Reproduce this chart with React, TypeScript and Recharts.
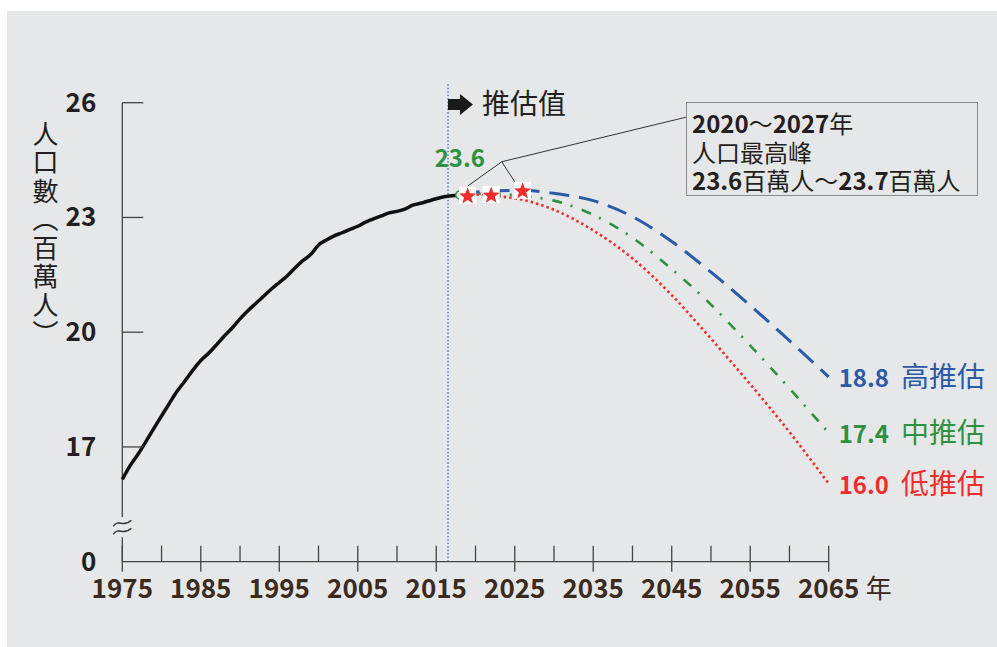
import {
  ComposedChart,
  Line,
  Scatter,
  XAxis,
  YAxis,
  ReferenceLine,
  ReferenceDot,
} from 'recharts'

const FONT = "'Noto Sans CJK TC', 'Noto Sans', sans-serif"
const BG = '#e6e7e8'
const BLUE = '#2a5aa8'
const GREEN = '#2e9142'
const RED = '#ef2d2d'

// 歷史人口 (百萬人)
const histYears = Array.from({ length: 44 }, (_, i) => 1975 + i)
const histValues = [
  16.15, 16.51, 16.81, 17.14, 17.48, 17.81, 18.14, 18.46, 18.73, 19.01,
  19.26, 19.45, 19.67, 19.9, 20.11, 20.35, 20.56, 20.75, 20.94, 21.13,
  21.3, 21.47, 21.68, 21.87, 22.03, 22.28, 22.41, 22.52, 22.6, 22.69,
  22.77, 22.88, 22.96, 23.04, 23.12, 23.16, 23.22, 23.32, 23.37, 23.43,
  23.49, 23.54, 23.57, 23.59,
]

// 推估值
const projYears = [2018, 2020, 2022, 2026, 2030, 2035, 2040, 2045, 2050, 2055, 2060, 2065]
const highValues = [23.59, 23.66, 23.69, 23.71, 23.63, 23.44, 23.02, 22.37, 21.57, 20.7, 19.78, 18.83]
const midValues = [23.59, 23.62, 23.62, 23.56, 23.44, 23.07, 22.47, 21.65, 20.72, 19.65, 18.53, 17.37]
const lowValues = [23.59, 23.6, 23.57, 23.46, 23.2, 22.66, 21.93, 20.97, 19.83, 18.64, 17.39, 16.04]
const seriesNames = ['高推估', '中推估', '低推估']

// 人口最高峰
const peakYears = [2019, 2022, 2026]
const peakValues = [23.58, 23.6, 23.71]

const xTicks = [
  1975, 1980, 1985, 1990, 1995, 2000, 2005, 2010, 2015, 2020,
  2025, 2030, 2035, 2040, 2045, 2050, 2055, 2060, 2065,
]
const yTicks = [14, 17, 20, 23, 26]
const yTickLabels = ['0', '17', '20', '23', '26']

const projStart = 2016.5
const calloutJoint = { x: 2023.34, y: 24.456 }
const calloutEnds = [
  { x: 2019.0, y: 23.82 },
  { x: 2025.45, y: 23.79 },
  { x: 2046.8, y: 25.62 },
]

const years = Array.from(new Set([...histYears, ...projYears])).sort((a, b) => a - b)
const pick = (ys: number[], vs: number[], y: number) => {
  const i = ys.indexOf(y)
  return i < 0 ? null : vs[i]
}
const data = years.map((year) => ({
  year,
  hist: pick(histYears, histValues, year),
  high: pick(projYears, highValues, year),
  mid: pick(projYears, midValues, year),
  low: pick(projYears, lowValues, year),
}))
const peakData = peakYears.map((year, i) => ({ year, peak: peakValues[i] }))
const lastIndex = data.length - 1

function XTick(props: any) {
  const { x, y, payload } = props
  const v = payload.value
  const major = (v - 1975) % 10 === 0
  return (
    <g>
      <line x1={x} x2={x} y1={y - 16} y2={major ? y + 10 : y} stroke="#444" strokeWidth={1.3} />
      {major && (
        <text x={x} y={y + 36} textAnchor="middle" fontSize={26} fontWeight="bold" fill="#3b2a1e" fontFamily={FONT}>
          {v}
        </text>
      )}
      {v === 2065 && (
        <text x={x + 37} y={y + 36} fontSize={26} fill="#3b2a1e" fontFamily={FONT}>
          年
        </text>
      )}
    </g>
  )
}

function YTick(props: any) {
  const { x, y, payload } = props
  const i = yTicks.indexOf(payload.value)
  return (
    <g>
      {payload.value !== 14 && <line x1={x} x2={x + 21} y1={y} y2={y} stroke="#444" strokeWidth={1.3} />}
      <text x={x - 26} y={y + 9} textAnchor="end" fontSize={26} fontWeight="bold" fill="#231f20" fontFamily={FONT}>
        {yTickLabels[i]}
      </text>
    </g>
  )
}

function Star(props: any) {
  const { cx, cy } = props
  const pts: string[] = []
  for (let k = 0; k < 10; k++) {
    const r = k % 2 === 0 ? 9 : 3.8
    const a = -Math.PI / 2 + (k * Math.PI) / 5
    pts.push(`${cx + r * Math.cos(a)},${cy + 1 + r * Math.sin(a)}`)
  }
  return (
    <g>
      <rect x={cx - 8.5} y={cy - 8.5} width={17} height={17} fill="#fff" />
      <polygon points={pts.join(' ')} fill={RED} />
    </g>
  )
}

function AxisBreak(props: any) {
  const { cx, cy } = props
  return (
    <g>
      <rect x={cx - 10} y={cy - 10} width={20} height={20} fill={BG} />
      {[-4, 4].map((d) => (
        <path
          key={d}
          d={`M${cx - 9},${cy + d + 3} C${cx - 4},${cy + d - 5} ${cx + 1},${cy + d + 5} ${cx + 9},${cy + d - 3}`}
          fill="none"
          stroke="#333"
          strokeWidth={1.4}
        />
      ))}
    </g>
  )
}

const endLabel = (name: string, color: string) => (p: any) => {
  if (p.index !== lastIndex) return <g key={p.index} />
  return (
    <text key={p.index} x={p.x + 10} y={p.y + 10} fill={color} fontFamily={FONT}>
      <tspan fontWeight="bold" fontSize={24}>{Number(p.value).toFixed(1)}</tspan>
      <tspan dx={12} fontSize={28}>{name}</tspan>
    </text>
  )
}

export default function App() {
  return (
    <div style={{ position: 'absolute', left: 0, top: 0, width: 997, height: 647, background: '#fff', fontFamily: FONT }}>
      <div style={{ position: 'absolute', left: 7, top: 11, right: 0, bottom: 0, background: BG }} />

      <ComposedChart
        width={997}
        height={647}
        data={data}
        margin={{ top: 102.7, right: 168.3, bottom: 25.3, left: 42.3 }}
        style={{ position: 'absolute', left: 0, top: 0 }}
      >
        <XAxis
          dataKey="year"
          type="number"
          domain={[1975, 2065]}
          ticks={xTicks}
          interval={0}
          tick={(p: any) => <XTick {...p} />}
          tickLine={false}
          tickSize={0}
          tickMargin={0}
          axisLine={{ stroke: '#444', strokeWidth: 1.3 }}
          height={60}
        />
        <YAxis
          type="number"
          domain={[14, 26]}
          ticks={yTicks}
          interval={0}
          tick={(p: any) => <YTick {...p} />}
          tickLine={false}
          tickSize={0}
          tickMargin={0}
          axisLine={false}
          width={80}
        />
        <ReferenceLine segment={[{ x: 1975, y: 15.16 }, { x: 1975, y: 26 }]} stroke="#444" strokeWidth={1.3} />
        <ReferenceLine segment={[{ x: 1975, y: 14 }, { x: 1975, y: 14.67 }]} stroke="#444" strokeWidth={1.3} />
        <ReferenceDot x={1975} y={14.9} r={0} shape={(p: any) => <AxisBreak {...p} />} />
        <ReferenceLine
          segment={[{ x: projStart, y: 14 }, { x: projStart, y: 26.5 }]}
          ifOverflow="visible"
          stroke="#4a7fc8"
          strokeWidth={1.5}
          strokeDasharray="1.5 2"
        />
        {calloutEnds.map((e, i) => (
          <ReferenceLine key={i} segment={[calloutJoint, e]} ifOverflow="visible" stroke="#333" strokeWidth={1} />
        ))}

        <Line type="monotone" dataKey="hist" stroke="#111" strokeWidth={3.5} dot={false} isAnimationActive={false} />
        <Line
          type="monotone"
          dataKey="low"
          stroke={RED}
          strokeWidth={2.6}
          strokeDasharray="2.5 3"
          dot={false}
          connectNulls
          isAnimationActive={false}
          label={endLabel(seriesNames[2], RED)}
        />
        <Line
          type="monotone"
          dataKey="mid"
          stroke={GREEN}
          strokeWidth={2.6}
          strokeDasharray="10 9 2 10"
          dot={false}
          connectNulls
          isAnimationActive={false}
          label={endLabel(seriesNames[1], GREEN)}
        />
        <Line
          type="monotone"
          dataKey="high"
          stroke={BLUE}
          strokeWidth={3}
          strokeDasharray="20 10"
          dot={false}
          connectNulls
          isAnimationActive={false}
          label={endLabel(seriesNames[0], BLUE)}
        />
        <ReferenceDot
          x={2018}
          y={23.59}
          r={4}
          fill={BG}
          stroke={GREEN}
          strokeWidth={1.5}
          label={{ value: '23.6', position: 'top', offset: 24, fill: GREEN, fontSize: 24, fontWeight: 'bold', fontFamily: FONT }}
        />
        <Scatter data={peakData} dataKey="peak" shape={(p: any) => <Star {...p} />} isAnimationActive={false} />
      </ComposedChart>

      {/* y軸標題 */}
      <div
        style={{
          position: 'absolute',
          left: 32,
          top: 121,
          writingMode: 'vertical-rl',
          fontSize: 26,
          lineHeight: '26px',
          letterSpacing: '2.5px',
          color: '#231f20',
        }}
      >
        人口數（百萬人）
      </div>

      {/* 推估值 */}
      <svg style={{ position: 'absolute', left: 448, top: 94 }} width={26} height={22}>
        <path d="M0 5 H12 V0 L25 10.5 L12 21 V16 H0 Z" fill="#1a1a1a" />
      </svg>
      <div style={{ position: 'absolute', left: 482, top: 87, fontSize: 28, lineHeight: '30px', color: '#231f20' }}>
        推估值
      </div>

      {/* 說明框 */}
      <div
        style={{
          position: 'absolute',
          left: 686,
          top: 102,
          width: 292,
          height: 94,
          border: '1.5px solid #8c8c8c',
          paddingLeft: 5,
          paddingTop: 6,
          boxSizing: 'border-box',
          fontSize: 24,
          lineHeight: '28.5px',
          color: '#231f20',
          whiteSpace: 'nowrap',
        }}
      >
        <div style={{ height: 28.5 }}>
          <span style={{ fontWeight: 600 }}>2020</span>～<span style={{ fontWeight: 600 }}>2027</span>年
        </div>
        <div style={{ height: 28.5 }}>人口最高峰</div>
        <div style={{ height: 28.5 }}>
          <span style={{ fontWeight: 600 }}>23.6</span>百萬人～<span style={{ fontWeight: 600 }}>23.7</span>百萬人
        </div>
      </div>
    </div>
  )
}
